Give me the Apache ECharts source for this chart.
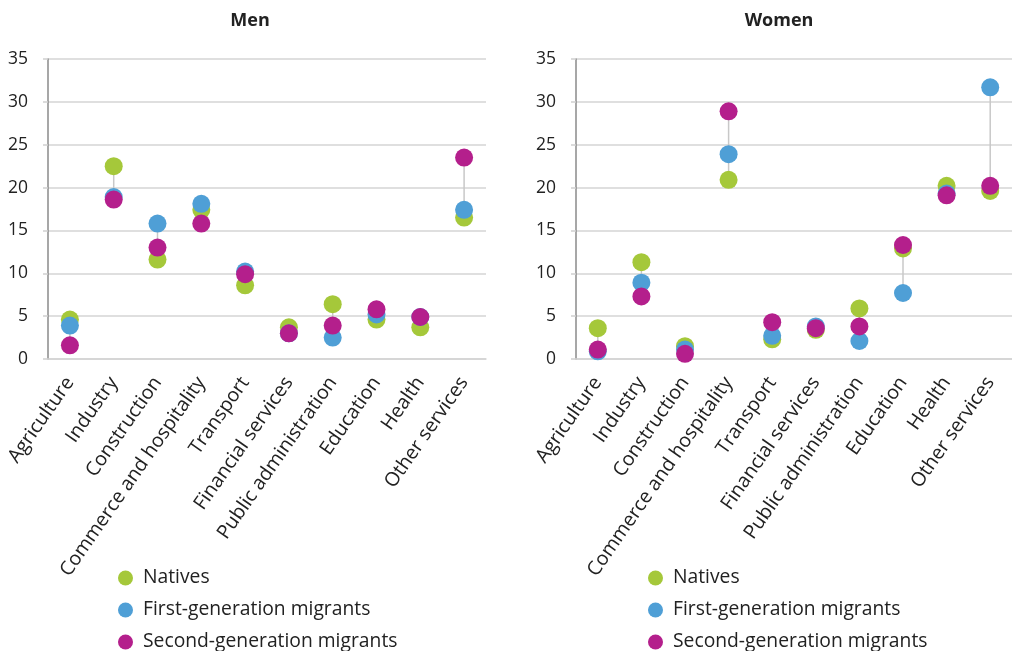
<!DOCTYPE html>
<html>
<head>
<meta charset="utf-8">
<script src="https://cdn.jsdelivr.net/npm/echarts@6/dist/echarts.min.js"></script>
<style>
html,body{margin:0;padding:0;background:#fff;}
#chart{width:1012px;height:651px;}
</style>
</head>
<body>
<div id="chart"></div>
<script>
const categories = ['Agriculture','Industry','Construction','Commerce and hospitality','Transport','Financial services','Public administration','Education','Health','Other services'];
const seriesNames = ['Natives','First-generation migrants','Second-generation migrants'];
const yTicks = [0,5,10,15,20,25,30,35];

const menNatives = [4.6, 22.5, 11.6, 17.4, 8.6, 3.7, 6.4, 4.6, 3.7, 16.5];
const menFirstGen = [3.9, 18.9, 15.8, 18.1, 10.2, 3.0, 2.5, 5.2, 4.9, 17.4];
const menSecondGen = [1.6, 18.6, 13.0, 15.8, 9.9, 3.0, 3.9, 5.8, 4.9, 23.5];

const womenNatives = [3.6, 11.3, 1.5, 20.9, 2.3, 3.4, 5.9, 12.9, 20.2, 19.6];
const womenFirstGen = [0.9, 8.9, 1.1, 23.9, 2.7, 3.8, 2.1, 7.7, 19.3, 31.7];
const womenSecondGen = [1.1, 7.3, 0.6, 28.9, 4.3, 3.6, 3.8, 13.3, 19.1, 20.2];

const colors = ['#a5c83a', '#4f9fd6', '#b41f8c'];
const FONT = '"Open Sans", "Noto Sans", sans-serif';

function rangeData(a, b, c) {
  return categories.map((_, i) => [i, Math.min(a[i], b[i], c[i]), Math.max(a[i], b[i], c[i])]);
}

function xAxis(gi) {
  return {
    type: 'category', gridIndex: gi, data: categories,
    axisLine: {show: true, lineStyle: {color: '#d4d4d4', width: 1.5}},
    axisTick: {show: false},
    axisLabel: {interval: 0, rotate: 55, margin: 20, fontSize: 19.5, color: '#222', fontFamily: FONT}
  };
}
function yAxis(gi) {
  return {
    type: 'value', gridIndex: gi, min: yTicks[0], max: yTicks[yTicks.length - 1], interval: 5,
    axisLine: {show: true, lineStyle: {color: '#8a8a8a', width: 1.5}},
    axisTick: {show: true, length: 5, lineStyle: {color: '#cfcfcf', width: 1.5}},
    splitLine: {show: true, lineStyle: {color: '#d4d4d4', width: 1.5}},
    axisLabel: {margin: 20, fontSize: 17.5, color: '#222', fontFamily: FONT}
  };
}
function rangeSeries(gi, data) {
  return {
    type: 'custom', name: 'range', xAxisIndex: gi, yAxisIndex: gi, z: 1,
    data: data, encode: {x: 0, y: [1, 2]},
    renderItem: function (params, api) {
      const p1 = api.coord([api.value(0), api.value(1)]);
      const p2 = api.coord([api.value(0), api.value(2)]);
      return {type: 'line', shape: {x1: p1[0], y1: p1[1], x2: p2[0], y2: p2[1]},
              style: {stroke: '#c8c8c8', lineWidth: 1.5}};
    },
    silent: true
  };
}
function scatter(gi, idx, data) {
  return {
    type: 'scatter', name: seriesNames[idx], xAxisIndex: gi, yAxisIndex: gi,
    data: data, symbol: 'circle', symbolSize: 18, z: 2 + idx,
    itemStyle: {color: colors[idx], opacity: 1}
  };
}
function legend(left) {
  return {
    orient: 'vertical', left: left, top: 566, height: 120, icon: 'circle',
    itemWidth: 15, itemHeight: 15, itemGap: 8, padding: 0,
    data: seriesNames,
    textStyle: {fontSize: 19.3, color: '#222', fontFamily: FONT, padding: [0, 0, 0, 5], lineHeight: 24}
  };
}

const chart = echarts.init(document.getElementById('chart'));
chart.setOption({
  animation: false,
  color: colors,
  textStyle: {fontFamily: FONT},
  graphic: [
    {type: 'text', x: 250, y: 21, style: {text: 'Men', textAlign: 'center', textVerticalAlign: 'middle', font: 'bold 18px ' + FONT, fill: '#222'}},
    {type: 'text', x: 779, y: 21, style: {text: 'Women', textAlign: 'center', textVerticalAlign: 'middle', font: 'bold 18px ' + FONT, fill: '#222'}}
  ],
  legend: [legend(118), legend(648)],
  grid: [
    {left: 48, right: 526, top: 59, bottom: 292},
    {left: 576, right: 0, top: 59, bottom: 292}
  ],
  xAxis: [xAxis(0), xAxis(1)],
  yAxis: [yAxis(0), yAxis(1)],
  series: [
    rangeSeries(0, rangeData(menNatives, menFirstGen, menSecondGen)),
    scatter(0, 0, menNatives),
    scatter(0, 1, menFirstGen),
    scatter(0, 2, menSecondGen),
    rangeSeries(1, rangeData(womenNatives, womenFirstGen, womenSecondGen)),
    scatter(1, 0, womenNatives),
    scatter(1, 1, womenFirstGen),
    scatter(1, 2, womenSecondGen)
  ]
});
</script>
</body>
</html>
